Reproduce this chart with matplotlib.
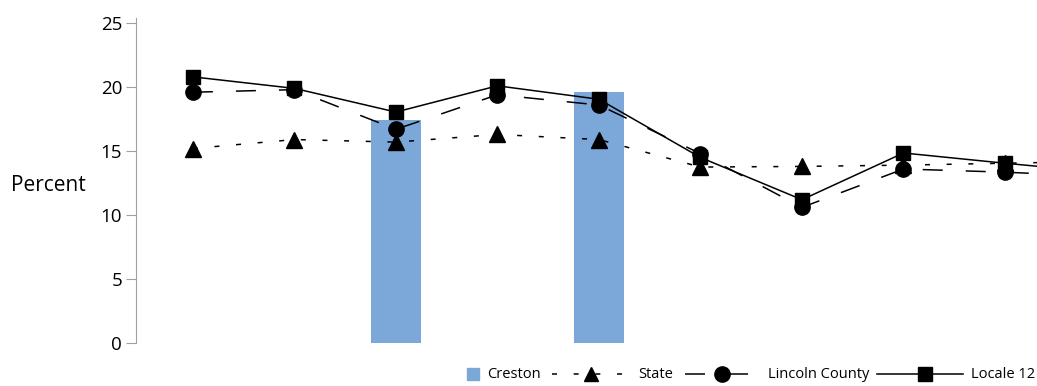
import matplotlib
matplotlib.use("Agg")
import matplotlib.pyplot as plt
from matplotlib.lines import Line2D
from matplotlib.patches import Rectangle
import numpy as np

plt.rcParams['font.family'] = ['Open Sans', 'DejaVu Sans']
plt.rcParams['lines.scale_dashes'] = False

categories = ["c1", "c2", "c3", "c4", "c5", "c6", "c7", "c8", "c9", "c10"]
creston = [np.nan, np.nan, 17.4, np.nan, 19.6, np.nan, np.nan, np.nan, np.nan, np.nan]
state = [15.2, 15.9, 15.7, 16.3, 15.9, 13.75, 13.8, 13.9, 14.05, 14.2]
lincoln = [19.6, 19.8, 16.7, 19.4, 18.6, 14.8, 10.6, 13.6, 13.35, 13.0]
locale12 = [20.8, 19.9, 18.05, 20.1, 19.05, 14.5, 11.2, 14.85, 14.05, 13.3]
yticks = [0, 5, 10, 15, 20, 25]

W, H = 1037, 386
BAR_COLOR = '#7BA7D9'
STATE_LS = (0, (3.6, 12.0))
LINC_LS = (0, (14.4, 16.6))

fig = plt.figure(figsize=(W / 100, H / 100), dpi=100)
ax = fig.add_axes([136 / W, 43 / H, 901 / W, 325 / H])
x = np.arange(len(categories))

ax.bar(x, creston, width=0.49, color=BAR_COLOR, zorder=1)
ax.plot(x, state, color='black', lw=1.1, linestyle=STATE_LS,
        marker='^', markersize=11, zorder=2)
ax.plot(x, lincoln, color='black', lw=1.1, linestyle=LINC_LS,
        marker='o', markersize=11, zorder=3)
ax.plot(x, locale12, color='black', lw=1.1, linestyle='-',
        marker='s', markersize=10, zorder=4)

ax.set_xlim(-0.56, 8.315)
ax.set_ylim(0, 25.4)
ax.set_yticks(yticks)
ax.set_xticks([])
for s in ['top', 'right', 'bottom']:
    ax.spines[s].set_visible(False)
ax.spines['left'].set_color('#A0A0A0')
ax.tick_params(axis='y', direction='out', length=7, color='#A0A0A0',
               labelsize=13.5, pad=3)

fig.text(11 / W, 1 - 186 / H, 'Percent', fontsize=15, ha='left', va='center')

# legend drawn manually in figure pixel coordinates
def fx(px):
    return px / W

def fy(py):
    return 1 - py / H

ly = 374
fs = 10.5
fig.add_artist(Rectangle((fx(467), fy(ly + 6)), 12 / W, 12 / H,
                         transform=fig.transFigure, color=BAR_COLOR))
fig.text(fx(487), fy(ly), 'Creston', fontsize=fs, ha='left', va='center')

fig.add_artist(Line2D([fx(552), fx(628)], [fy(ly), fy(ly)], transform=fig.transFigure,
                      color='black', lw=1.1, linestyle=STATE_LS))
fig.add_artist(Line2D([fx(591)], [fy(ly)], transform=fig.transFigure,
                      color='black', marker='^', markersize=10, linestyle='none'))
fig.text(fx(638), fy(ly), 'State', fontsize=fs, ha='left', va='center')

fig.add_artist(Line2D([fx(685), fx(749)], [fy(ly), fy(ly)], transform=fig.transFigure,
                      color='black', lw=1.1, linestyle=LINC_LS))
fig.add_artist(Line2D([fx(722)], [fy(ly)], transform=fig.transFigure,
                      color='black', marker='o', markersize=11, linestyle='none'))
fig.text(fx(768), fy(ly), 'Lincoln County', fontsize=fs, ha='left', va='center')

fig.add_artist(Line2D([fx(877), fx(963)], [fy(ly), fy(ly)], transform=fig.transFigure,
                      color='black', lw=1.1, linestyle='-'))
fig.add_artist(Line2D([fx(925)], [fy(ly)], transform=fig.transFigure,
                      color='black', marker='s', markersize=10, linestyle='none'))
fig.text(fx(971), fy(ly), 'Locale 12', fontsize=fs, ha='left', va='center')

fig.savefig('out.png', dpi=100)
